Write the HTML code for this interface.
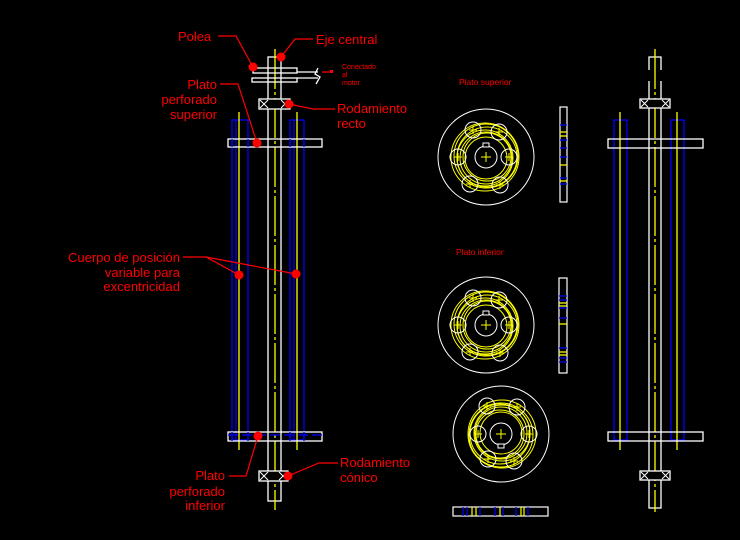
<!DOCTYPE html>
<html><head><style>
html,body{margin:0;padding:0;background:#000;}
svg{display:block}
text{font-family:"Liberation Sans",sans-serif;fill:#f00;}
</style></head><body>
<svg width="740" height="540" viewBox="0 0 740 540" xmlns="http://www.w3.org/2000/svg">
<defs>
<g id="disk">
  <circle r="48" fill="none" stroke="#fff" stroke-width="1"/>
  <g fill="none" stroke="#ff0" stroke-width="1">
    <circle cx="0" cy="1" r="21"/><circle cx="1" cy="0" r="24"/><circle cx="0" cy="1" r="26"/><circle cx="-1" cy="1" r="28"/><circle cx="1" cy="0" r="30"/><circle cx="0" cy="-1" r="32"/><circle cx="-1" cy="0" r="34"/>
  </g>
  <g fill="none" stroke="#fff" stroke-width="1">
    <circle cx="-13" cy="-27" r="8"/><circle cx="13" cy="-25" r="8"/>
    <circle cx="-28" cy="0" r="8"/><circle cx="23" cy="0" r="8"/>
    <circle cx="-16" cy="27" r="8"/><circle cx="14" cy="28" r="8"/>
    <circle cx="0" cy="0" r="11"/>
  </g>
  <g stroke="#ff0" stroke-width="1">
    <path d="M-5 0H5M0 -5V5"/>
    <path d="M-17 -27H-9M-13 -31V-23M9 -25H17M13 -29V-21M-32 0H-24M-28 -4V4M19 0H27M23 -4V4M-20 27H-12M-16 23V31M10 28H18M14 24V32"/>
  </g>
  <rect x="-3" y="-14" width="6" height="4" fill="#000" stroke="#fff"/>
</g>
</defs>

<!-- LEFT ASSEMBLY -->
<g fill="none" stroke-width="1.3">
  <rect x="232" y="120" width="16" height="320" stroke="#00f"/>
  <line x1="236" y1="120" x2="236" y2="440" stroke="#00f"/>
  <rect x="290" y="120" width="14" height="320" stroke="#00f"/>
  <line x1="294" y1="120" x2="294" y2="440" stroke="#00f"/>
  <line x1="239" y1="112" x2="239" y2="450" stroke="#ff0"/>
  <line x1="297" y1="112" x2="297" y2="450" stroke="#ff0"/>
  <rect x="268" y="57" width="13" height="444" stroke="#fff"/>
  <line x1="275" y1="49" x2="275" y2="510" stroke="#ff0" stroke-dasharray="40 3 3 3"/>
  <rect x="253" y="68" width="44" height="5" stroke="#fff"/>
  <rect x="252" y="78" width="45" height="4" stroke="#fff"/>
  <line x1="297" y1="72" x2="318" y2="72" stroke="#fff"/>
  <line x1="297" y1="78" x2="318" y2="78" stroke="#fff"/>
  <path d="M318 68 L315 74 L320 77 L316 84" stroke="#fff"/>
  <rect x="259" y="99" width="31" height="10" stroke="#fff" fill="#000"/>
  <path d="M260 100l8 8M268 100l-8 8M281 100l8 8M289 100l-8 8" stroke="#fff" stroke-width="1"/>
  <rect x="259" y="471" width="29" height="10" stroke="#fff" fill="#000"/>
  <path d="M260 472l8 8M268 472l-8 8M279 472l8 8M287 472l-8 8" stroke="#fff" stroke-width="1"/>
  <rect x="228" y="139" width="94" height="8" stroke="#fff"/>
  <rect x="228" y="432" width="94" height="9" stroke="#fff"/>
  <path d="M232 432v9M248 432v9M290 432v9M304 432v9M232 139v8M248 139v8M290 139v8M304 139v8" stroke="#00f"/>
  <path d="M228 435h94" stroke="#00f" stroke-dasharray="10 4"/>
</g>

<g stroke="#f00" stroke-width="1.2" fill="none">
  <path d="M218 36H236L253 67"/>
  <path d="M281 57L295 39H313"/>
  <path d="M220 84H238L257 143"/>
  <path d="M289 104L313 109H335"/>
  <path d="M183 257H206L239 275M206 257L296 274"/>
  <path d="M229 476H246L258 436"/>
  <path d="M288 476L319 463H338"/>
  <path d="M322 72H330"/>
</g>
<g fill="#f00">
  <circle cx="253" cy="67" r="4.5"/><circle cx="281" cy="57" r="4.5"/>
  <circle cx="257" cy="143" r="4.5"/><circle cx="289" cy="104" r="4.5"/>
  <circle cx="239" cy="275" r="4.5"/><circle cx="296" cy="274" r="4.5"/>
  <circle cx="258" cy="436" r="4.5"/><circle cx="288" cy="476" r="4.5"/>
  <rect x="330" y="70" width="3" height="3"/>
</g>
<g font-size="13">
  <text x="178" y="41">Polea</text>
  <text x="316" y="44">Eje central</text>
  <text x="217" y="89" text-anchor="end">Plato</text>
  <text x="217" y="104" text-anchor="end">perforado</text>
  <text x="217" y="119" text-anchor="end">superior</text>
  <text x="337" y="113">Rodamiento</text>
  <text x="337" y="128">recto</text>
  <text x="180" y="262" text-anchor="end">Cuerpo de posición</text>
  <text x="180" y="277" text-anchor="end">variable para</text>
  <text x="180" y="291" text-anchor="end">excentricidad</text>
  <text x="225" y="480" text-anchor="end">Plato</text>
  <text x="225" y="496" text-anchor="end">perforado</text>
  <text x="225" y="510" text-anchor="end">inferior</text>
  <text x="340" y="467">Rodamiento</text>
  <text x="340" y="482">cónico</text>
</g>
<g font-size="7">
  <text x="342" y="69">Conectado</text>
  <text x="342" y="77">al</text>
  <text x="342" y="85">motor</text>
</g>
<g font-size="8.5">
  <text x="459" y="85">Plato superior</text>
  <text x="456" y="255">Plato inferior</text>
</g>

<use href="#disk" x="486" y="157"/>
<use href="#disk" x="486" y="325"/>
<use href="#disk" x="501" y="434" transform="rotate(180 501 434)"/>

<g fill="none" stroke-width="1.2">
  <rect x="560" y="107" width="7" height="95" stroke="#fff"/>
  <path d="M560 125h7M560 140h7M560 148h7M560 157h7M560 178h7M560 184h7" stroke="#00f"/>
  <path d="M560 132h7M560 136h7M560 165h7M560 181h7" stroke="#ff0"/>
  <rect x="559" y="278" width="8" height="95" stroke="#fff"/>
  <path d="M559 296h8M559 300h8M559 308h8M559 318h8M559 348h8M559 358h8M559 362h8" stroke="#00f"/>
  <path d="M559 303h8M559 306h8M559 324h8M559 352h8M559 355h8" stroke="#ff0"/>
  <rect x="453" y="507" width="95" height="9" stroke="#fff"/>
  <path d="M463 507v9M467 507v9M480 507v9M495 507v9M503 507v9M516 507v9M528 507v9" stroke="#00f"/>
  <path d="M472 507v9M476 507v9M500 507v9M521 507v9M524 507v9" stroke="#ff0"/>
</g>

<g fill="none" stroke-width="1.3">
  <rect x="614" y="120" width="13" height="320" stroke="#00f"/>
  <rect x="671" y="120" width="13" height="320" stroke="#00f"/>
  <line x1="620" y1="112" x2="620" y2="450" stroke="#ff0"/>
  <line x1="677" y1="112" x2="677" y2="450" stroke="#ff0"/>
  <path d="M649 70V57H661V70M649 81V508H661V81" stroke="#fff"/>
  <line x1="655" y1="49" x2="655" y2="512" stroke="#ff0" stroke-dasharray="40 3 3 3"/>
  <rect x="640" y="99" width="30" height="9" stroke="#fff" fill="#000"/>
  <path d="M641 100l7 7M648 100l-7 7M662 100l7 7M669 100l-7 7" stroke="#fff" stroke-width="1"/>
  <rect x="640" y="471" width="30" height="9" stroke="#fff" fill="#000"/>
  <path d="M641 472l7 7M648 472l-7 7M662 472l7 7M669 472l-7 7" stroke="#fff" stroke-width="1"/>
  <rect x="608" y="139" width="95" height="9" stroke="#fff"/>
  <rect x="608" y="432" width="95" height="9" stroke="#fff"/>
</g>
</svg>
</body></html>
